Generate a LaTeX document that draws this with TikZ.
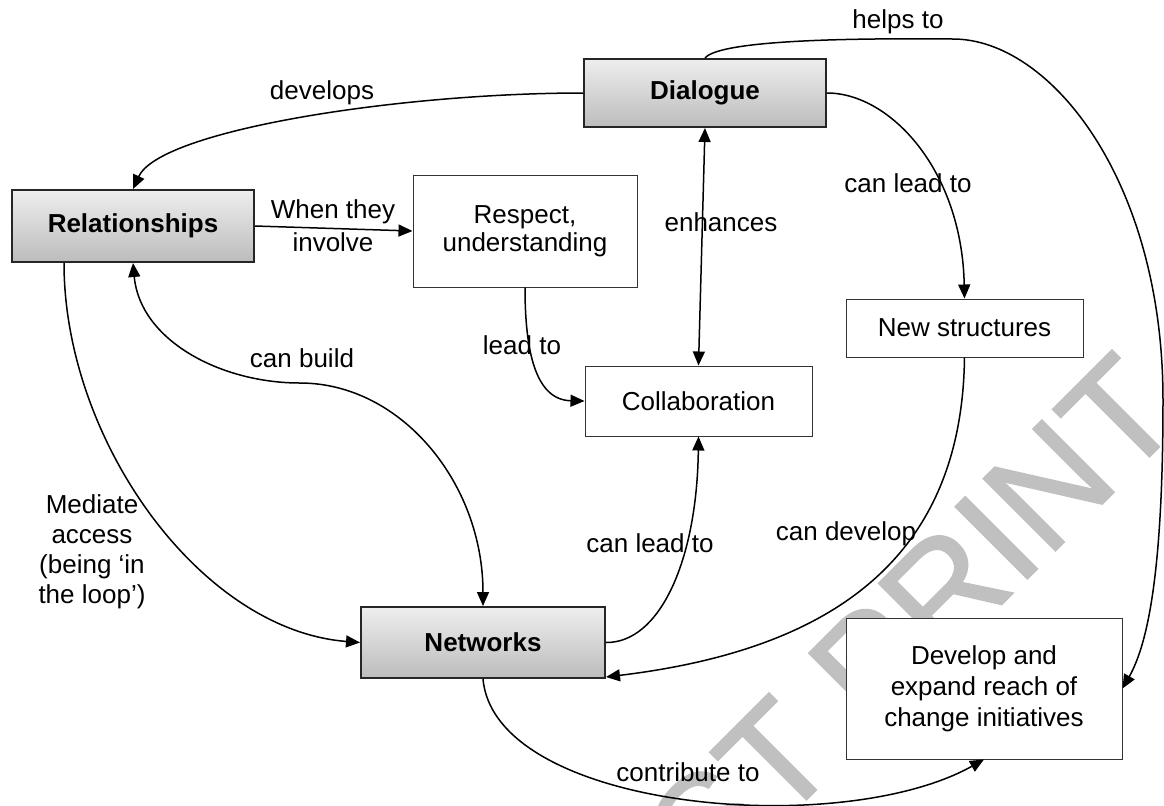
\documentclass[tikz,border=0pt]{standalone}
\usepackage{fontspec}
\setmainfont{Liberation Sans}
\newfontfamily\wmfont[FakeBold=1.2]{Liberation Sans}
\usetikzlibrary{arrows.meta}
\definecolor{wm}{RGB}{192,192,192}
\definecolor{shtop}{RGB}{238,238,238}
\definecolor{shbot}{RGB}{188,188,188}
\tikzset{
 mainbox/.style={draw=black!85, line width=1pt, top color=shtop, bottom color=shbot, inner sep=0pt, font=\fontsize{13}{15}\selectfont\bfseries},
 plainbox/.style={draw=black!80, line width=0.5pt, fill=white, inner sep=0pt, align=center, font=\fontsize{13}{15}\selectfont},
 lbl/.style={inner sep=0pt, align=center, font=\fontsize{13}{15}\selectfont},
 conn/.style={line width=0.75pt, -{Triangle[length=7pt,width=6pt]}},
 dconn/.style={line width=0.75pt, {Triangle[length=7pt,width=6pt]}-{Triangle[length=7pt,width=6pt]}},
}
\begin{document}
\begin{tikzpicture}[x=0.5pt,y=-0.5pt]
\useasboundingbox (0,0) rectangle (1164,805);
\begin{scope}
\clip (0,0) rectangle (1164,805);
\node[text=wm, rotate=45, font=\wmfont\fontsize{74}{74}\selectfont, inner sep=0pt] (wmark) at (912,622) {ST PRINT};
\end{scope}
% nodes
\node[mainbox, minimum width=121pt, minimum height=36pt] (rel) at (133,226) {Relationships};
\node[mainbox, minimum width=121pt, minimum height=34pt] (dlg) at (705,93) {Dialogue};
\node[mainbox, minimum width=122pt, minimum height=35.5pt] (net) at (483,642.5) {Networks};
\node[plainbox, minimum width=112pt, minimum height=56pt, font=\fontsize{13}{14}\selectfont] (resp) at (525,231) {Respect,\\understanding};
\node[plainbox, minimum width=113.5pt, minimum height=35pt] (col) at (698.5,401) {Collaboration};
\node[plainbox, minimum width=118.5pt, minimum height=29pt] (ns) at (964.5,328) {New structures};
\node[plainbox, minimum width=138pt, minimum height=70.5pt, font=\fontsize{13}{15.5}\selectfont] (dev) at (984,688.5) {Develop and\\expand reach of\\change initiatives};
% connectors
\draw[conn] (dlg.west) .. controls (400,93) and (160,130) .. (rel.north);
\draw[conn] (rel.east) -- (resp.west);
\draw[conn] (resp.south) .. controls (525,350) and (535,400) .. (col.west);
\draw[dconn] (dlg.south) -- (col.north);
\draw[conn] (dlg.east) .. controls (890,93) and (962,170) .. (ns.north);
\draw[conn] (dlg.north) .. controls (720,40) and (850,38) .. (953,39) .. controls (1050,39) and (1163,180) .. (1163,400) .. controls (1163,560) and (1150,640) .. (dev.east);
\draw[dconn] (rel.south) .. controls (140,340) and (220,383) .. (300,383) .. controls (401,383) and (483,483) .. (net.north);
\draw[conn] ([xshift=-34.5pt]rel.south) .. controls (64,440) and (200,630) .. (net.west);
\draw[conn] (net.east) .. controls (660,643) and (697,560) .. (col.south);
\draw[conn] (ns.south) .. controls (962,560) and (830,650) .. ([yshift=1pt]net.south east);
\draw[conn] (net.south) .. controls (495,810) and (840,840) .. (dev.south);
% labels
\node[lbl] (l1) at (322,93) {develops};
\node[lbl, font=\fontsize{13}{16.5}\selectfont] (l2) at (333,226) {When they\\involve};
\node[lbl] (l3) at (522,345) {lead to};
\node[lbl] (l4) at (721,222) {enhances};
\node[lbl] (l5) at (908,183) {can lead to};
\node[lbl] (l6) at (898,22) {helps to};
\node[lbl] (l7) at (302,358) {can build};
\node[lbl] (l8) at (92,552) {Mediate\\access\\(being ‘in\\the loop’)};
\node[lbl] (l9) at (650,543) {can lead to};
\node[lbl] (l10) at (846,534) {can develop};
\node[lbl] (l11) at (688,772) {contribute to};
\end{tikzpicture}
\end{document}
